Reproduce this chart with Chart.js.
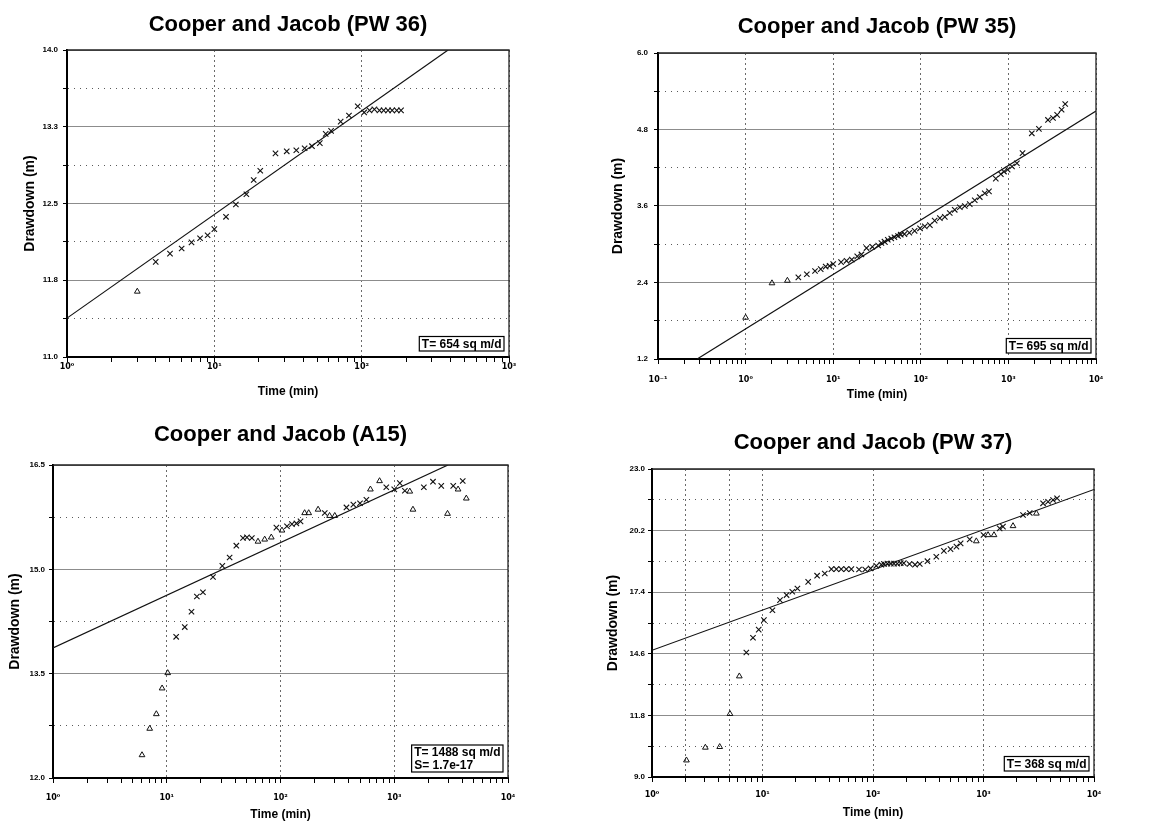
<!DOCTYPE html>
<html><head><meta charset="utf-8">
<script src="https://cdn.jsdelivr.net/npm/chart.js@4/dist/chart.umd.min.js"></script>
<style>
html,body{margin:0;padding:0;background:#fff;}
#wrap{position:relative;width:1164px;height:823px;overflow:hidden;}
canvas{position:absolute;left:0;top:0;}
</style></head><body><div id="wrap">
<canvas id="c1" width="1164" height="823"></canvas>
<canvas id="c2" width="1164" height="823"></canvas>
<canvas id="c3" width="1164" height="823"></canvas>
<canvas id="c4" width="1164" height="823"></canvas>
</div>
<script>
// ---------- PW 36 ----------
const pw36CrossT = [4,5,6,7,8,9,10,12,14,16.5,18.5,20.5,26,31,36,41,46,52,57,62,72,82,94,104,113,122,132,141,151,161,173,185];
const pw36CrossS = [11.93,12.01,12.06,12.12,12.16,12.19,12.25,12.37,12.49,12.59,12.73,12.82,12.99,13.01,13.02,13.04,13.06,13.09,13.18,13.21,13.30,13.36,13.45,13.39,13.41,13.42,13.41,13.41,13.41,13.41,13.41,13.41];
const pw36TriT = [3];
const pw36TriS = [11.64];
const pw36FitT = [1, 386];
const pw36FitS = [11.38, 14.0];
const pw36YTicks = [11.0, 11.75, 12.5, 13.25, 14.0];
const pw36YLabels = ['11.0','11.8','12.5','13.3','14.0'];
const pw36XTicks = [1, 10, 100, 1000];
const pw36XLabels = ['10\u2070','10\u00b9','10\u00b2','10\u00b3'];

// ---------- PW 35 ----------
const pw35CrossT = [4,5,6.2,7.2,8.2,9.1,10,12.3,14.2,16.3,18.8,21,24,28,32.6,35.5,38.5,42,46,50,55,59,65,74,85,98,111,127,144,165,188,214,244,279,318,362,413,471,537,600,718,820,890,980,1100,1250,1450,1850,2230,2830,3230,3600,4050,4450];
const pw35CrossS = [2.48,2.53,2.58,2.61,2.65,2.66,2.69,2.72,2.74,2.76,2.81,2.84,2.94,2.96,2.98,3.02,3.04,3.07,3.09,3.11,3.13,3.15,3.16,3.18,3.21,3.25,3.28,3.30,3.37,3.41,3.43,3.49,3.54,3.58,3.60,3.63,3.69,3.74,3.80,3.83,4.03,4.10,4.14,4.17,4.22,4.27,4.43,4.74,4.81,4.95,4.98,5.03,5.11,5.20];
const pw35TriT = [1, 2, 3];
const pw35TriS = [1.85, 2.39, 2.43];
const pw35FitT = [0.28, 10000];
const pw35FitS = [1.2, 5.09];
const pw35YTicks = [1.2, 2.4, 3.6, 4.8, 6.0];
const pw35YLabels = ['1.2','2.4','3.6','4.8','6.0'];
const pw35XTicks = [0.1, 1, 10, 100, 1000, 10000];
const pw35XLabels = ['10\u207b\u00b9','10\u2070','10\u00b9','10\u00b2','10\u00b3','10\u2074'];

// ---------- A15 ----------
const a15CrossT = [12.1,14.4,16.5,18.4,20.8,25.5,30.8,35.7,40.9,46.8,50.7,56,92,114,126,138,150,245,380,437,500,569,851,1000,1120,1240,1820,2190,2590,3300,4000];
const a15CrossS = [14.03,14.17,14.39,14.61,14.67,14.89,15.05,15.17,15.34,15.45,15.46,15.45,15.60,15.62,15.65,15.66,15.69,15.81,15.89,15.93,15.95,16.0,16.18,16.15,16.24,16.13,16.18,16.26,16.20,16.20,16.27];
const a15TriT = [6.06,7.08,8.1,9.1,10.2,63.4,72.6,83,103,163,177,214,270,300,617,743,1370,1460,2940,3640,4300];
const a15TriS = [12.33,12.71,12.92,13.29,13.51,15.40,15.43,15.46,15.56,15.81,15.81,15.86,15.77,15.77,16.15,16.27,16.12,15.86,15.80,16.15,16.02];
const a15FitT = [1, 2970];
const a15FitS = [13.87, 16.5];
const a15YTicks = [12.0, 13.5, 15.0, 16.5];
const a15YLabels = ['12.0','13.5','15.0','16.5'];
const a15XTicks = [1, 10, 100, 1000, 10000];
const a15XLabels = ['10\u2070','10\u00b9','10\u00b2','10\u00b3','10\u2074'];

// ---------- PW 37 ----------
const pw37CrossT = [7.14,8.2,9.24,10.3,12.3,14.4,16.5,18.6,20.7,25.9,31.2,36.6,42,46.6,51.6,57.3,63.7,74.7,85,95,107,119,126,135,145,155,166,178,190,214,240,265,311,374,438,503,569,621,750,1000,1400,1500,2280,2620,3460,3840,4260,4630];
const pw37CrossS = [14.66,15.33,15.70,16.13,16.58,17.04,17.27,17.42,17.57,17.87,18.15,18.25,18.45,18.45,18.45,18.45,18.45,18.43,18.43,18.48,18.60,18.65,18.68,18.70,18.70,18.70,18.70,18.72,18.72,18.68,18.65,18.68,18.81,19.01,19.28,19.36,19.47,19.62,19.80,20.0,20.30,20.38,20.91,21.0,21.44,21.51,21.59,21.67];
const pw37TriT = [2.05,3.04,4.1,5.08,6.17,861,1100,1245,1850,3010];
const pw37TriS = [9.76,10.34,10.37,11.87,13.58,19.72,20.0,20.0,20.41,20.98];
const pw37FitT = [1, 10000];
const pw37FitS = [14.76, 22.07];
const pw37YTicks = [9.0, 11.8, 14.6, 17.4, 20.2, 23.0];
const pw37YLabels = ['9.0','11.8','14.6','17.4','20.2','23.0'];
const pw37XTicks = [1, 10, 100, 1000, 10000];
const pw37XLabels = ['10\u2070','10\u00b9','10\u00b2','10\u00b3','10\u2074'];
const pw37XExtraGrid = [2, 5];

const FONT = "'Liberation Sans', Arial, Helvetica, sans-serif";
const SUPFONT = "'DejaVu Sans', 'Liberation Sans', sans-serif";
Chart.defaults.font.family = FONT;
Chart.defaults.color = '#000';
const W = 1164, H = 823;

function pts(t, s){ return t.map((v,i)=>({x:v, y:s[i]})); }

function buildChart(id, p){
  const yAll = [];
  p.yTicks.forEach((v,i)=>{ yAll.push(v); if(i < p.yTicks.length-1) yAll.push((v + p.yTicks[i+1])/2); });
  const xAll = [];
  p.xTicks.forEach((d,i)=>{ xAll.push(d); if(i < p.xTicks.length-1) for(let k=2;k<=9;k++) xAll.push(d*k); });
  const yIdx = v => p.yTicks.findIndex(m => Math.abs(m - v) < 1e-6);
  const xIdx = v => p.xTicks.findIndex(d => Math.abs(d - v)/d < 1e-6);
  const xGrid = v => xIdx(v) >= 0 || (p.xExtra||[]).some(d => Math.abs(d - v)/d < 1e-6);
  const a = p.area;
  const yScaleLeft = p.yTitleX - 8.4;
  const xScaleBottom = p.xTitleY + 7.2;

  const annot = {
    id: 'annot' + id,
    afterDraw(chart){
      const ca = chart.chartArea, ctx = chart.ctx;
      ctx.save();
      ctx.strokeStyle = '#222'; ctx.lineWidth = 1.3;
      ctx.beginPath();
      ctx.moveTo(ca.left, ca.top); ctx.lineTo(ca.right, ca.top); ctx.lineTo(ca.right, ca.bottom);
      ctx.stroke();
      ctx.font = 'bold 12px ' + FONT;
      const tw = Math.max(...p.box.map(s => ctx.measureText(s).width));
      const lh = 12.5;
      const bw = tw + 5, bh = p.box.length * lh + 2;
      const bx = ca.right - 5 - bw, by = ca.bottom - 6 - bh;
      ctx.fillStyle = '#fff'; ctx.fillRect(bx, by, bw, bh);
      ctx.strokeStyle = '#000'; ctx.lineWidth = 1.2; ctx.strokeRect(bx, by, bw, bh);
      ctx.fillStyle = '#000'; ctx.textBaseline = 'middle'; ctx.textAlign = 'left';
      p.box.forEach((s,i)=> ctx.fillText(s, bx + 2.5, by + 1 + lh*(i+0.5) + 0.5));
      ctx.restore();
    }
  };

  return new Chart(document.getElementById(id), {
    type: 'scatter',
    data: { datasets: [
      { type:'line', data: pts(p.fitT, p.fitS), borderColor:'#111', borderWidth:1.2, pointRadius:0, fill:false, tension:0, order:3 },
      { data: pts(p.crossT, p.crossS), pointStyle:'crossRot', pointRadius:3.8, borderColor:'#111', borderWidth:1.1, backgroundColor:'#111', order:1 },
      { data: pts(p.triT, p.triS), pointStyle:'triangle', pointRadius:3.3, borderColor:'#111', borderWidth:1, backgroundColor:'rgba(255,255,255,0)', order:2 }
    ]},
    options: {
      responsive:false, animation:false, devicePixelRatio:1,
      events: [],
      layout: { padding: { left: yScaleLeft, right: W - a.r, top: p.titleY - 13.2, bottom: H - xScaleBottom } },
      plugins: {
        legend: { display:false }, tooltip: { enabled:false },
        title: { display:true, text:p.title, fullSize:false, color:'#000',
          font:{ size:22, weight:'bold', family:FONT }, padding:{ top:0, bottom: a.t - p.titleY - 13.2 } }
      },
      scales: {
        x: {
          type:'logarithmic', min:p.xTicks[0], max:p.xTicks[p.xTicks.length-1],
          afterBuildTicks: s => { s.ticks = xAll.map(v => ({value:v})); },
          afterFit: s => { s.height = xScaleBottom - a.b; },
          ticks: { autoSkip:false, maxRotation:0, minRotation:0, padding: p.xLabelPad,
            font:{ size:8, weight:'bold', family:SUPFONT }, color:'#000',
            callback: v => { const i = xIdx(v); return i >= 0 ? p.xLabels[i] : ''; } },
          grid: { color: c => (c.tick && xGrid(c.tick.value)) ? '#6a6a6a' : 'rgba(0,0,0,0)', lineWidth:1,
            tickColor:'#000', tickLength:5, tickWidth:1 },
          border: { display:true, color:'#000', width:2, dash: c => c.tick ? [2,3] : [] },
          title: { display:true, text:'Time (min)', font:{ size:12, weight:'bold' }, color:'#000', padding:{top:0,bottom:0} }
        },
        y: {
          type:'linear', min:p.yTicks[0], max:p.yTicks[p.yTicks.length-1],
          afterBuildTicks: s => { s.ticks = yAll.map(v => ({value:v})); },
          afterFit: s => { s.width = a.l - yScaleLeft; },
          ticks: { autoSkip:false, padding: p.yLabelPad, font:{ size:8, weight:'bold' }, color:'#000',
            callback: v => { const i = yIdx(v); return i >= 0 ? p.yLabels[i] : ''; } },
          grid: { color: c => (c.tick && yIdx(c.tick.value) >= 0) ? '#8c8c8c' : '#5a5a5a', lineWidth:1,
            tickColor:'#000', tickLength:4, tickWidth:1 },
          border: { display:true, color:'#000', width:2, dash: c => (c.tick && yIdx(c.tick.value) < 0) ? [1,5] : [] },
          title: { display:true, text:'Drawdown (m)', font:{ size:14, weight:'bold' }, color:'#000', padding:{top:0,bottom:0} }
        }
      }
    },
    plugins: [annot]
  });
}

buildChart('c1', { title:'Cooper and Jacob (PW 36)', crossT:pw36CrossT, crossS:pw36CrossS, triT:pw36TriT, triS:pw36TriS,
  fitT:pw36FitT, fitS:pw36FitS, yTicks:pw36YTicks, yLabels:pw36YLabels, xTicks:pw36XTicks, xLabels:pw36XLabels,
  area:{l:67, r:509, t:50, b:357}, yTitleX:30, xTitleY:392, titleY:25, xLabelPad:0.5, yLabelPad:5, box:['T= 654 sq m/d'] });
buildChart('c2', { title:'Cooper and Jacob (PW 35)', crossT:pw35CrossT, crossS:pw35CrossS, triT:pw35TriT, triS:pw35TriS,
  fitT:pw35FitT, fitS:pw35FitS, yTicks:pw35YTicks, yLabels:pw35YLabels, xTicks:pw35XTicks, xLabels:pw35XLabels,
  area:{l:658, r:1096, t:53, b:359}, yTitleX:618, xTitleY:395, titleY:27, xLabelPad:11, yLabelPad:6, box:['T= 695 sq m/d'] });
buildChart('c3', { title:'Cooper and Jacob (A15)', crossT:a15CrossT, crossS:a15CrossS, triT:a15TriT, triS:a15TriS,
  fitT:a15FitT, fitS:a15FitS, yTicks:a15YTicks, yLabels:a15YLabels, xTicks:a15XTicks, xLabels:a15XLabels,
  area:{l:53, r:508, t:465, b:778}, yTitleX:15, xTitleY:815, titleY:435, xLabelPad:10, yLabelPad:4, box:['T= 1488 sq m/d','S= 1.7e-17'] });
buildChart('c4', { title:'Cooper and Jacob (PW 37)', crossT:pw37CrossT, crossS:pw37CrossS, triT:pw37TriT, triS:pw37TriS,
  fitT:pw37FitT, fitS:pw37FitS, yTicks:pw37YTicks, yLabels:pw37YLabels, xTicks:pw37XTicks, xLabels:pw37XLabels, xExtra:pw37XExtraGrid,
  area:{l:652, r:1094, t:469, b:777}, yTitleX:613, xTitleY:813, titleY:443, xLabelPad:8, yLabelPad:3, box:['T= 368 sq m/d'] });
</script>
</body></html>
